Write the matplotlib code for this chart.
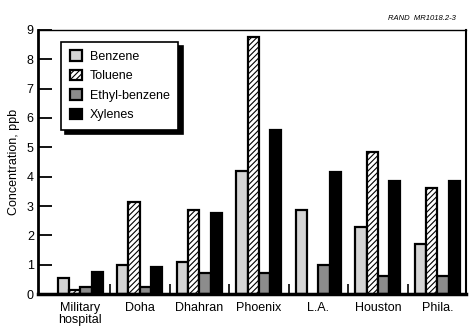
import matplotlib
matplotlib.use('Agg')
import matplotlib.pyplot as plt
import numpy as np

plt.rcParams['font.family'] = ['Liberation Sans', 'DejaVu Sans']

# data (ppb)
sites = ['Military\nhospital', 'Doha', 'Dhahran', 'Phoenix', 'L.A.', 'Houston', 'Phila.']
benzene = [0.55, 1.0, 1.1, 4.2, 2.85, 2.3, 1.72]
toluene = [0.15, 3.15, 2.85, 8.75, 0.0, 4.85, 3.62]
ethylbenzene = [0.25, 0.25, 0.72, 0.72, 1.0, 0.6, 0.6]
xylenes = [0.75, 0.92, 2.75, 5.6, 4.15, 3.85, 3.85]

series = [
    ('Benzene', benzene, '#d4d4d4', None),
    ('Toluene', toluene, 'white', '//////'),
    ('Ethyl-benzene', ethylbenzene, '#8c8c8c', None),
    ('Xylenes', xylenes, 'black', None),
]

fig = plt.figure(figsize=(4.75, 3.33), dpi=100)
ax = fig.add_axes([0.08, 0.117, 0.901, 0.793])

x = np.arange(len(sites))
w = 0.19
plt.rcParams['hatch.linewidth'] = 0.8
handles = []
for i, (name, vals, fc, hatch) in enumerate(series):
    vals = np.array(vals)
    show = vals > 0
    b = ax.bar(x[show] + (i - 1.5) * w, vals[show], width=w, facecolor=fc,
               edgecolor='black', linewidth=1.6, hatch=hatch, label=name, zorder=2)
    handles.append(b)

ax.set_xlim(-0.71, 6.48)
ax.set_ylim(0, 9)
ax.set_yticks(range(10))
ax.set_xticks(x)
ax.set_xticklabels(sites, fontsize=9, linespacing=1.0)
ax.set_xticks(x[:-1] + 0.5, minor=True)
ax.tick_params(axis='x', which='major', length=0, pad=6)
ax.tick_params(axis='x', which='minor', direction='in', length=7, width=1.2)
ax.tick_params(axis='y', direction='in', length=10, width=1.3, labelsize=9, pad=3)
ax.set_ylabel('Concentration, ppb', fontsize=9, labelpad=5)

ax.spines['left'].set_linewidth(2)
ax.spines['bottom'].set_linewidth(2.5)
ax.spines['top'].set_linewidth(1)
ax.spines['right'].set_linewidth(1.5)

leg = ax.legend(handles=handles, loc='upper left', bbox_to_anchor=(0.045, 0.97),
                fontsize=9, frameon=True, fancybox=False, handlelength=1.0,
                handleheight=0.9, borderpad=0.7, labelspacing=0.55, handletextpad=0.6,
                borderaxespad=0.3,
                shadow={'color': 'black', 'alpha': 1, 'ox': 3, 'oy': -3})
leg.get_frame().set_edgecolor('black')
leg.get_frame().set_linewidth(1.2)

fig.text(0.96, 0.935, 'RAND  MR1018.2-3', fontsize=5.5, style='italic', ha='right', va='bottom')

fig.savefig('out.png', dpi=100)
